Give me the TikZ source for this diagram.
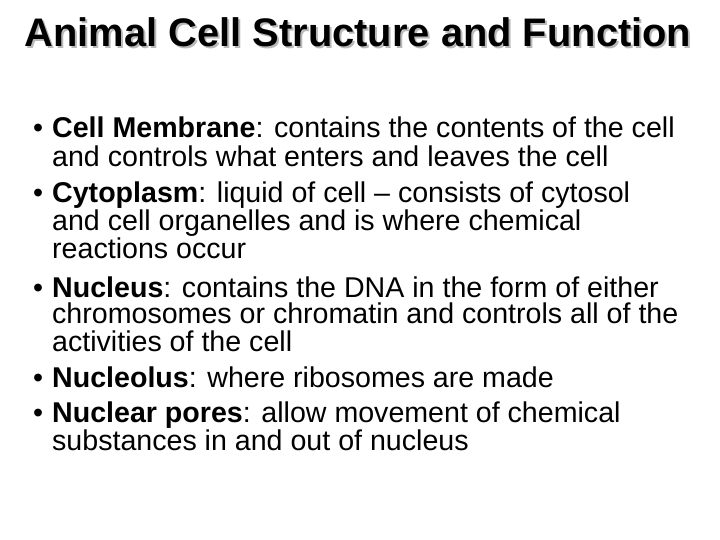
\documentclass[tikz,border=0pt]{standalone}
\usepackage{fontspec}
\setmainfont{Liberation Sans}
\begin{document}
\begin{tikzpicture}[x=1bp,y=-1bp,
  ln/.style={anchor=base west,inner sep=0pt,font=\fontsize{28.7}{30}\selectfont},
  bul/.style={anchor=base west,inner sep=0pt,font=\fontsize{28.7}{30}\selectfont},
  ttl/.style={anchor=base,inner sep=0pt,font=\fontsize{40}{44}\selectfont\bfseries}]
\useasboundingbox (0,0) rectangle (720,540);
\node[ttl,text=gray!55] (ts) at (360,49) {Animal Cell Structure and Function};
\node[ttl] (t) at (358,47) {Animal Cell Structure and Function};
\foreach \y/\b in {138/1,203/2,297/3,387/4,422/5}{\node[bul] (b\b) at (33,\y) {•};}
\node[ln] (l1) at (52,138) {\textbf{Cell Membrane}: contains the contents of the cell};
\node[ln] (l2) at (52,167) {and controls what enters and leaves the cell};
\node[ln] (l3) at (52,203) {\textbf{Cytoplasm}: liquid of cell – consists of cytosol};
\node[ln] (l4) at (52,231) {and cell organelles and is where chemical};
\node[ln] (l5) at (52,259) {reactions occur};
\node[ln] (l6) at (52,297) {\textbf{Nucleus}: contains the DNA in the form of either};
\node[ln] (l7) at (52,323) {chromosomes or chromatin and controls all of the};
\node[ln] (l8) at (52,351) {activities of the cell};
\node[ln] (l9) at (52,387) {\textbf{Nucleolus}: where ribosomes are made};
\node[ln] (l10) at (52,422) {\textbf{Nuclear pores}: allow movement of chemical};
\node[ln] (l11) at (52,450) {substances in and out of nucleus};
\end{tikzpicture}
\end{document}
